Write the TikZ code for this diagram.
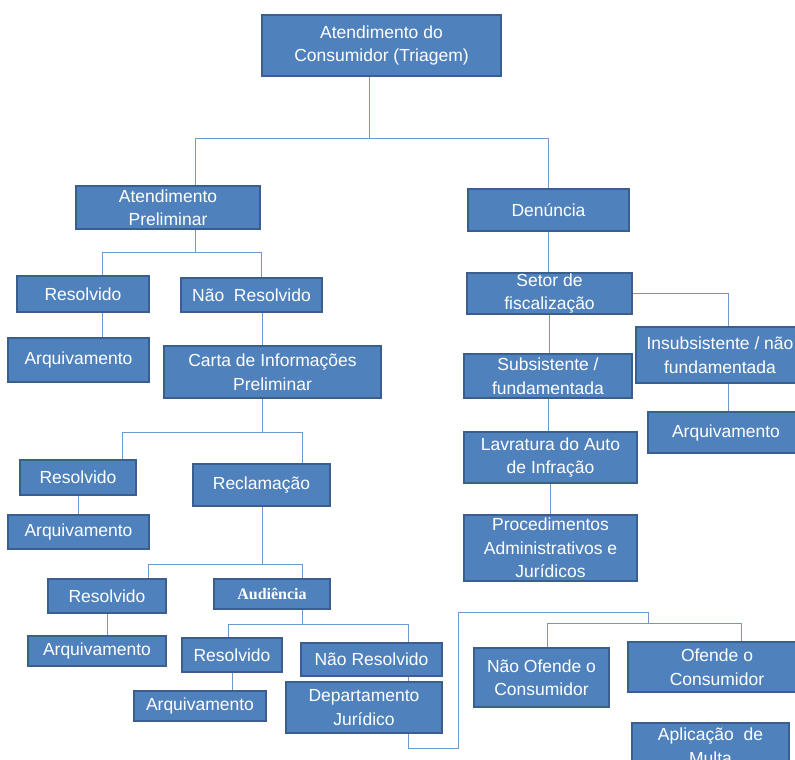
\documentclass[tikz,border=0pt]{standalone}
\usepackage{fontspec}
\setmainfont{Liberation Sans}
\newfontfamily\audfont{Liberation Serif}
\usepackage{tikz}
\usetikzlibrary{positioning, backgrounds}

\definecolor{boxfill}{HTML}{4F81BD}
\definecolor{boxedge}{HTML}{3A5F8E}
\definecolor{linkblue}{HTML}{6F98CB}

\tikzset{
  box/.style={draw=boxedge, fill=boxfill, line width=1.3pt, text=white,
    align=center, inner sep=0pt, font=\fontsize{17.5}{23.5}\selectfont},
  link/.style={draw=linkblue, line width=0.9pt},
}

\begin{document}
\begin{tikzpicture}[x=1pt, y=-1pt]
\clip (0,0) rectangle (795,760);

% triagem and the two branches
\node[box, minimum width=239pt, minimum height=61pt] (triagem) at (381.5,45.5) {Atendimento do\\Consumidor (Triagem)};
\node[box, minimum width=184pt, minimum height=43pt] (atprel) at (168,207.5) {Atendimento\\Preliminar};
\node[box, minimum width=161pt, minimum height=42pt] (denuncia) at (548.5,210) {Denúncia};

% left branch
\node[box, minimum width=132pt, minimum height=36pt] (res1) at (83,294) {Resolvido};
\node[box, minimum width=141pt, minimum height=34pt] (naores1) at (251.5,295) {Não~~Resolvido};
\node[box, minimum width=141pt, minimum height=44pt] (arq1) at (78.5,360) {Arquivamento};
\node[box, minimum width=217pt, minimum height=52pt] (carta) at (272.5,372) {Carta de Informações\\Preliminar};
\node[box, minimum width=116pt, minimum height=35pt] (res2) at (78,477.5) {Resolvido};
\node[box, minimum width=141pt, minimum height=34pt] (arq2) at (78.5,532) {Arquivamento};
\node[box, minimum width=137pt, minimum height=42pt] (reclamacao) at (261.5,485) {Reclamação};
\node[box, minimum width=118pt, minimum height=34pt] (res3) at (107,596) {Resolvido};
\node[box, minimum width=116pt, minimum height=30pt, font=\audfont\bfseries\fontsize{16}{20}\selectfont] (audiencia) at (272,594) {Audiência};
\node[box, minimum width=138pt, minimum height=30pt] (arq3) at (97,651) {Arquivamento};
\node[box, minimum width=100pt, minimum height=34pt] (res4) at (232,655) {Resolvido};
\node[box, minimum width=141pt, minimum height=33pt] (naores2) at (371.5,659.5) {Não Resolvido};
\node[box, minimum width=132pt, minimum height=30pt] (arq4) at (200,706) {Arquivamento};
\node[box, minimum width=156pt, minimum height=51pt] (depjur) at (364,707.5) {Departamento\\Jurídico};
\node[box, minimum width=135pt, minimum height=59pt] (naoofende) at (541.5,677.5) {Não Ofende o\\Consumidor};
\node[box, minimum width=178pt, minimum height=50pt] (ofende) at (717,667) {Ofende o\\Consumidor};
\node[box, minimum width=157pt, minimum height=46pt] (multa) at (710.5,746) {Aplicação~~de\\Multa};

% right branch
\node[box, minimum width=165pt, minimum height=41pt] (setor) at (549.5,293.5) {Setor de\\fiscalização};
\node[box, minimum width=168pt, minimum height=56pt] (insub) at (720,355) {Insubsistente / não\\fundamentada};
\node[box, minimum width=168pt, minimum height=44pt] (subs) at (548,376) {Subsistente /\\fundamentada};
\node[box, minimum width=156pt, minimum height=41pt] (arq5) at (726,432.5) {Arquivamento};
\node[box, minimum width=173pt, minimum height=51pt] (lavratura) at (550.5,457.5) {Lavratura do Auto\\de Infração};
\node[box, minimum width=173pt, minimum height=66pt] (proced) at (550.5,548) {Procedimentos\\Administrativos e\\Jurídicos};

\begin{scope}[on background layer]
% triagem
\draw[link] (369,0 |- triagem.south) -- (369,138);
\draw[link] (195,0 |- atprel.north) |- (548,138) -- (548,0 |- denuncia.north);
% atendimento preliminar
\draw[link] (195,0 |- atprel.south) -- (195,252);
\draw[link] (102,0 |- res1.north) |- (261,252) -- (261,0 |- naores1.north);
\draw[link] (102,0 |- res1.south) -- (102,0 |- arq1.north);
\draw[link] (262,0 |- naores1.south) -- (262,0 |- carta.north);
% carta
\draw[link] (262,0 |- carta.south) -- (262,432);
\draw[link] (122,0 |- res2.north) |- (302,432) -- (302,0 |- reclamacao.north);
\draw[link] (78,0 |- res2.south) -- (78,0 |- arq2.north);
% reclamacao
\draw[link] (262,0 |- reclamacao.south) -- (262,564);
\draw[link] (148,0 |- res3.north) |- (302,564) -- (302,0 |- audiencia.north);
\draw[link] (107,0 |- res3.south) -- (107,0 |- arq3.north);
% audiencia
\draw[link] (302,0 |- audiencia.south) -- (302,624);
\draw[link] (228,0 |- res4.north) |- (408,624) -- (408,748) -| (458,612) -| (648,623);
\draw[link] (232,0 |- res4.south) -- (232,0 |- arq4.north);
\draw[link] (547,0 |- naoofende.north) |- (741,623) -- (741,0 |- ofende.north);
% denuncia
\draw[link] (548,0 |- denuncia.south) -- (548,0 |- setor.north);
\draw[link] (setor.east) -| (728,0 |- insub.north);
\draw[link] (549,0 |- setor.south) -- (549,0 |- subs.north);
\draw[link] (728,0 |- insub.south) -- (728,0 |- arq5.north);
\draw[link] (548,0 |- subs.south) -- (548,0 |- lavratura.north);
\draw[link] (550,0 |- lavratura.south) -- (550,0 |- proced.north);
\end{scope}
\end{tikzpicture}
\end{document}
